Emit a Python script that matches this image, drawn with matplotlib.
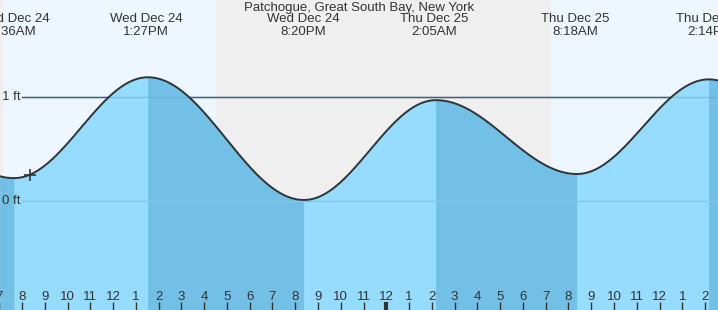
import matplotlib
matplotlib.use("Agg")
import matplotlib.pyplot as plt
import numpy as np

# ---- data (hours relative to midnight Dec 24/25, heights in ft) ----
extreme_hours = [-22.7, -16.35, -10.47, -3.615, 2.18, 8.374, 14.17, 20.4]
extreme_heights = [1.00, 0.22, 1.19, 0.01, 0.97, 0.26, 1.17, 0.02]
label_hours = [-16.4, -10.55, -3.667, 2.083, 8.30, 14.233]
label_days = ["Wed Dec 24", "Wed Dec 24", "Wed Dec 24", "Thu Dec 25", "Thu Dec 25", "Thu Dec 25"]
label_times = ["7:36AM", "1:27PM", "8:20PM", "2:05AM", "8:18AM", "2:14PM"]
night_spans = [(-30.0, -16.83), (-7.49, 7.23)]
now_hour = -15.65
title = "Patchogue, Great South Bay, New York"
tick_hours = list(range(-17, 15))
tick_labels = [str((h % 12) or 12) for h in tick_hours]

x0, x1 = -16.966, 14.567
y0, y1 = -1.048, 1.933

fig = plt.figure(figsize=(7.18, 3.10), dpi=100)
ax = fig.add_axes([0, 0, 1, 1])
ax.set_xlim(x0, x1)
ax.set_ylim(y0, y1)
ax.axis("off")

SKY_DAY = "#eef7ff"
SKY_NIGHT = "#efefef"
FILL_RISE = "#96dcfe"
FILL_FALL = "#72c0e5"
TXT = "#333333"
FONT = ["Liberation Sans", "DejaVu Sans"]

ax.axvspan(x0, x1, color=SKY_DAY, zorder=0, lw=0)
for a, b in night_spans:
    ax.axvspan(a, b, color=SKY_NIGHT, zorder=0.5, lw=0)

# tide curve: half-cosine between successive extremes
def tide(t):
    t = np.asarray(t, dtype=float)
    out = np.empty_like(t)
    for i in range(len(extreme_hours) - 1):
        ta, tb = extreme_hours[i], extreme_hours[i + 1]
        ha, hb = extreme_heights[i], extreme_heights[i + 1]
        m = (t >= ta) & (t <= tb)
        f = (t[m] - ta) / (tb - ta)
        out[m] = ha + (hb - ha) * (1 - np.cos(np.pi * f)) / 2
    return out

t = np.linspace(x0, x1, 2000)
h = tide(t)

# 1 ft reference line (behind the water)
x_line_start = x0 + 22 / 718 * (x1 - x0)
ax.plot([x_line_start, x1], [1, 1], color="#333333", lw=1, zorder=1)

# water fill by rising/falling phases
for i in range(len(extreme_hours) - 1):
    ta, tb = extreme_hours[i], extreme_hours[i + 1]
    rising = extreme_heights[i + 1] > extreme_heights[i]
    m = (t >= ta) & (t <= tb)
    if not m.any():
        continue
    c = FILL_RISE if rising else FILL_FALL
    ax.fill_between(t[m], h[m], y0, facecolor=c, edgecolor=c,
                    lw=0.6, zorder=2)

# lines seen through the water
ax.plot([x_line_start, x1], [1, 1], color="#5a9fc4", lw=1, alpha=0.45, zorder=2.5)
ax.plot([x_line_start, x1], [0, 0], color="#7fc6ea", lw=1, zorder=2.5)

ax.plot(t, h, color="#333333", lw=1.4, zorder=3)
ax.plot([now_hour], tide([now_hour]), marker="+", ms=9, mew=1.2, color="#333333", zorder=4)

# y labels
for val, lab in [(1, "1 ft"), (0, "0 ft")]:
    ax.text(x0 + 2 / 718 * (x1 - x0), val, lab, ha="left", va="center",
            fontsize=9.5, color=TXT, family=FONT, zorder=5)

# hour ticks
dy = (y1 - y0) / 310
for hr, lab in zip(tick_hours, tick_labels):
    ax.plot([hr, hr], [y0, y0 + 8 * dy], color=TXT,
            lw=3 if hr == 0 else 1, zorder=5, solid_capstyle="butt")
    ax.text(hr, y0 + 13.5 * dy, lab, ha="center", va="center", fontsize=9.5,
            color=TXT, family=FONT, zorder=5)

# extreme labels
for hr, d, tm in zip(label_hours, label_days, label_times):
    ax.text(hr, y1 - 19 * dy, d, ha="center", va="center", fontsize=9.5,
            color=TXT, family=FONT, zorder=5)
    ax.text(hr, y1 - 32 * dy, tm, ha="center", va="center", fontsize=9.5,
            color=TXT, family=FONT, zorder=5)

ax.text((x0 + x1) / 2, y1 - 8 * dy, title, ha="center", va="center",
        fontsize=9.5, color=TXT, family=FONT, zorder=5)

fig.savefig("out.png", dpi=100)
